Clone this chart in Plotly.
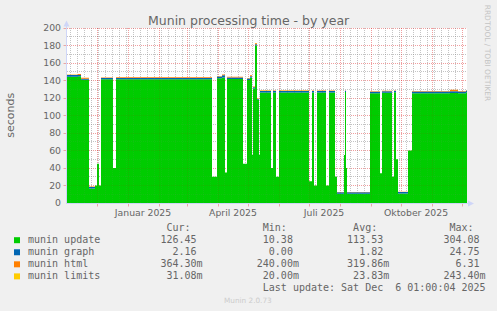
import math
from datetime import datetime, timedelta
import plotly.graph_objects as go

# ---------------- data ----------------
start = datetime(2024, 11, 1)
n_days = 400

# change points (day offset from start); values hold until next point (step)
day_offsets = [0, 11, 14, 22, 28, 30, 32, 34, 46, 49, 145, 150, 155, 158, 160,
               176, 180, 183, 185, 186, 188, 190, 192, 193, 204, 206, 209, 212,
               242, 245, 247, 250, 259, 262, 268, 270, 277, 278, 279, 280, 303,
               313, 315, 325, 327, 329, 331, 341, 345, 383, 391, 399, 400]

update_vals = [144.3, 145.0, 140.8, 16.5, 20, 45, 20, 141.3, 40, 141.3, 30, 142.5, 143.5, 35, 141.7,
               45, 140.6, 143.5, 55, 131, 180, 118, 55, 126.3, 40, 126.3, 30, 126.3,
               25, 126.3, 20, 126.3, 20, 126.3, 30, 10.6, 55, 127, 40, 10.6, 125.5,
               34, 126, 30, 126.5, 50, 11, 60, 125.3, 125.8, 125.3, 126.45, 126.45]

graph_vals = [2.0, 1.3, 1.3, 1.8, 0, 0, 0, 1.6, 0, 1.7, 0, 2.0, 2.5, 0, 1.8,
              0, 1.6, 1.5, 0, 1.2, 1.5, 1.0, 0, 1.8, 0, 1.8, 0, 1.8,
              0, 1.8, 0, 1.8, 0, 1.8, 0, 1.6, 0, 1.2, 0, 1.6, 1.7,
              0, 1.7, 0, 1.7, 0, 1.6, 0, 2.0, 2.0, 2.1, 2.16, 2.16]

html_vals = [0.4, 1.2, 0.9, 0.6, 0, 0, 0, 0.5, 0, 0.8, 0, 0.5, 0.8, 0, 0.7,
             0, 0.5, 1.0, 0, 1.0, 1.2, 0.5, 0, 0.6, 0, 0.5, 0, 0.6,
             0, 0.5, 0, 0.5, 0, 0.5, 0, 0.3, 0, 0.3, 0, 0.3, 0.6,
             0, 0.5, 0, 0.5, 0, 0.35, 0, 0.6, 1.6, 0.5, 0.364, 0.364]

limits_vals = [0.024, 0.024, 0.024, 0.024, 0, 0, 0, 0.024, 0, 0.024, 0, 0.024, 0.024, 0, 0.024,
               0, 0.024, 0.024, 0, 0.024, 0.024, 0.024, 0, 0.024, 0, 0.024, 0, 0.024,
               0, 0.024, 0, 0.024, 0, 0.024, 0, 0.024, 0, 0.024, 0, 0.024, 0.024,
               0, 0.024, 0, 0.024, 0, 0.024, 0, 0.024, 0.024, 0.024, 0.031, 0.031]

series_names = ["munin update", "munin graph", "munin html", "munin limits"]
series_colors = ["#00CC00", "#0066B3", "#FF8000", "#FFCC00"]

legend_cur = ["126.45", "2.16", "364.30m", "31.08m"]
legend_min = ["10.38", "0.00", "240.00m", "20.00m"]
legend_avg = ["113.53", "1.82", "319.86m", "23.83m"]
legend_max = ["304.08", "24.75", "6.31", "243.40m"]

x_label_dates = [datetime(2025, 1, 16), datetime(2025, 4, 16),
                 datetime(2025, 7, 16), datetime(2025, 10, 16)]
x_label_text = ["Januar 2025", "April 2025", "Juli 2025", "Oktober 2025"]
y_tick_vals = list(range(0, 201, 20))

title_text = "Munin processing time - by year"
last_update = "Last update: Sat Dec  6 01:00:04 2025"
footer_text = "Munin 2.0.73"
watermark = "RRDTOOL / TOBI OETIKER"

# ---------------- layout helpers ----------------
W, H = 497, 311
PL, PR, PT, PB = 67, 467, 28, 203
FONT_C = "#666666"
AXIS_C = "#CFD6F8"
MGRID_C = "rgba(215,0,0,0.30)"
GRID_C = "rgba(140,140,140,0.45)"
MGRID_TOP = "rgba(215,0,0,0.10)"
GRID_TOP = "rgba(140,140,140,0.10)"


def X(p):
    return (p - PL) / (PR - PL)


def Y(p):
    return (PB - p) / (PB - PT)


end = start + timedelta(days=n_days)
dates = [start + timedelta(days=d) for d in day_offsets]

fig = go.Figure()
for name, vals, col in zip(series_names, [update_vals, graph_vals, html_vals, limits_vals], series_colors):
    fig.add_trace(go.Scatter(x=dates, y=vals, name=name, mode="lines", stackgroup="one",
                             line=dict(width=0, shape="hv", color=col), fillcolor=col,
                             hoverinfo="skip", showlegend=False))

shapes = []


def grid_line(x0, x1, y0, y1, major):
    # visible grid on the canvas (below data) and a faint copy over the data
    shapes.append(dict(type="line", xref="paper", yref="paper", x0=X(x0), x1=X(x1), y0=Y(y0), y1=Y(y1),
                       line=dict(color=MGRID_C if major else GRID_C, width=1, dash="1px,1px"), layer="below"))
    shapes.append(dict(type="line", xref="paper", yref="paper", x0=X(x0), x1=X(x1), y0=Y(y0), y1=Y(y1),
                       line=dict(color=MGRID_TOP if major else GRID_TOP, width=1, dash="1px,1px"), layer="above"))


# horizontal grid
for v in range(10, 201, 10):
    pix = PB - v * (PB - PT) / 200.0
    yc = math.floor(pix) + 0.5
    major = (v % 20 == 0)
    grid_line(PL, PR, yc, yc, major)
    if major:
        shapes.append(dict(type="line", xref="paper", yref="paper", x0=X(63.5), x1=X(66), y0=Y(yc), y1=Y(yc),
                           line=dict(color=MGRID_C, width=1), layer="above"))

# vertical grid: months (major) and weeks (minor, Mondays)
month_days = []
y_, m_ = 2024, 12
while True:
    dt = datetime(y_, m_, 1)
    if dt >= end:
        break
    month_days.append((dt - start).days)
    m_ += 1
    if m_ > 12:
        m_, y_ = 1, y_ + 1
px_per_day = (PR - PL) / n_days
d = 3
while d < n_days:
    if d not in month_days:
        xc = math.floor(PL + d * px_per_day) + 0.5
        grid_line(xc, xc, PB, PT, False)
    d += 7
for d in month_days:
    xc = math.floor(PL + d * px_per_day) + 0.5
    grid_line(xc, xc, PB, PT, True)
    shapes.append(dict(type="line", xref="paper", yref="paper", x0=X(xc), x1=X(xc), y0=Y(204), y1=Y(206.5),
                       line=dict(color=MGRID_C, width=1), layer="above"))

# axes with arrows
shapes.append(dict(type="line", xref="paper", yref="paper", x0=X(66), x1=X(469), y0=Y(203.5), y1=Y(203.5),
                   line=dict(color=AXIS_C, width=1), layer="above"))
shapes.append(dict(type="line", xref="paper", yref="paper", x0=X(66.5), x1=X(66.5), y0=Y(204), y1=Y(25),
                   line=dict(color=AXIS_C, width=1), layer="above"))
shapes.append(dict(type="path", xref="paper", yref="paper",
                   path=f"M {X(468)} {Y(200.5)} L {X(474)} {Y(203.5)} L {X(468)} {Y(206.5)} Z",
                   fillcolor=AXIS_C, line=dict(width=0), layer="above"))
shapes.append(dict(type="path", xref="paper", yref="paper",
                   path=f"M {X(63.5)} {Y(26.5)} L {X(66.5)} {Y(20.5)} L {X(69.5)} {Y(26.5)} Z",
                   fillcolor=AXIS_C, line=dict(width=0), layer="above"))

# legend boxes
row_base = 242.8
row_step = 12.06
for i, col in enumerate(series_colors):
    cy = row_base + i * row_step - 2.6
    shapes.append(dict(type="rect", xref="paper", yref="paper", x0=X(14), x1=X(20), y0=Y(cy - 3), y1=Y(cy + 3),
                       fillcolor=col, line=dict(width=0)))

NB = "\u00a0"


def build_row(name, vals):
    cells = [NB] * 77
    for i, ch in enumerate(name):
        cells[i] = ch
    for v, e in zip(vals, [27, 43, 58, 74]):
        if v.endswith("m"):
            num, suf = v[:-1], "m"
        else:
            num, suf = v, NB
        for k, ch in enumerate(num):
            cells[e - len(num) + 1 + k] = ch
        cells[e + 1] = suf
    return "".join(cells).rstrip(NB)


def build_header():
    cells = [NB] * 77
    for h, e in zip(["Cur:", "Min:", "Avg:", "Max:"], [26, 42, 57, 73]):
        for k, ch in enumerate(h):
            cells[e - len(h) + 1 + k] = ch
    return "".join(cells).rstrip(NB)


MONO = "DejaVu Sans Mono"
ann = []
lines = [build_header()] + [build_row(n, [c, mi, a, ma]) for n, c, mi, a, ma in
                            zip(series_names, legend_cur, legend_min, legend_avg, legend_max)]
lu = (NB * (76 - len(last_update))) + last_update.replace(" ", NB)
lines.append(lu)
for i, txt in enumerate(lines):
    baseline = 230.7 + i * row_step
    ann.append(dict(text=txt, xref="paper", yref="paper", x=X(26), y=Y(baseline - 3.46),
                    xanchor="left", yanchor="middle", showarrow=False,
                    font=dict(family=MONO, size=10, color=FONT_C)))

ann.append(dict(text=title_text, xref="paper", yref="paper", x=X(248.5), y=Y(20.7), xanchor="center",
                yanchor="middle", showarrow=False, font=dict(family="DejaVu Sans", size=12.5, color=FONT_C)))
ann.append(dict(text="seconds", xref="paper", yref="paper", x=X(11), y=Y(114.7), xanchor="center",
                yanchor="middle", textangle=-90, showarrow=False,
                font=dict(family="DejaVu Sans", size=11, color=FONT_C)))
ann.append(dict(text=watermark.replace(" ", NB), xref="paper", yref="paper", x=X(487.6), y=Y(53.3), xanchor="center",
                yanchor="middle", textangle=90, showarrow=False,
                font=dict(family="DejaVu Sans", size=7.5, color="#C4C4C4")))
ann.append(dict(text=footer_text, xref="paper", yref="paper", x=X(247.7), y=Y(300.2), xanchor="center",
                yanchor="middle", showarrow=False, font=dict(family="DejaVu Sans", size=7.3, color="#CCCCCC")))

fig.update_layout(
    width=W, height=H, autosize=False,
    margin=dict(l=PL, r=W - PR, t=PT, b=H - PB, pad=0),
    paper_bgcolor="#F0F0F0", plot_bgcolor="#FFFFFF",
    shapes=shapes, annotations=ann, showlegend=False,
    xaxis=dict(range=[start, end], tickmode="array", tickvals=x_label_dates, ticktext=x_label_text,
               showgrid=False, zeroline=False, showline=False, ticks="", ticklabelstandoff=3,
               tickfont=dict(family="DejaVu Sans", size=9.3, color=FONT_C)),
    yaxis=dict(range=[0, 200], tickmode="array", tickvals=y_tick_vals, showgrid=False, zeroline=False,
               showline=False, ticks="", ticklabelstandoff=5,
               tickfont=dict(family="DejaVu Sans", size=9.3, color=FONT_C)),
)

fig.write_html("out.html")
